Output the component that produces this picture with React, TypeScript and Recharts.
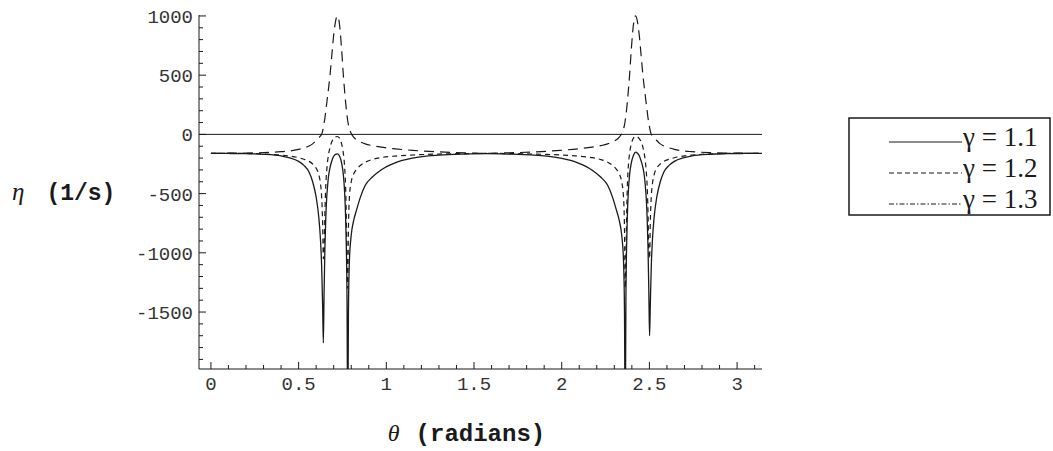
import { LineChart, Line, XAxis, YAxis, ReferenceLine } from 'recharts';

// θ (radians)
const thetas = [
  0, 0.1, 0.2, 0.3, 0.4, 0.45, 0.5, 0.53, 0.56, 0.58,
  0.6, 0.615, 0.625, 0.631, 0.637, 0.641, 0.645, 0.65, 0.655, 0.66,
  0.665, 0.67, 0.679, 0.69, 0.7, 0.71, 0.721, 0.732, 0.745, 0.755,
  0.762, 0.768, 0.772, 0.776, 0.78, 0.784, 0.79, 0.8, 0.815, 0.83,
  0.85, 0.88, 0.92, 0.97, 1.05, 1.15, 1.3, 1.45, 1.571, 1.692,
  1.842, 1.992, 2.092, 2.172, 2.222, 2.262, 2.292, 2.312, 2.327, 2.342,
  2.352, 2.358, 2.362, 2.366, 2.37, 2.374, 2.38, 2.387, 2.397, 2.41,
  2.421, 2.432, 2.442, 2.452, 2.463, 2.472, 2.477, 2.482, 2.487, 2.492,
  2.497, 2.501, 2.505, 2.511, 2.517, 2.527, 2.542, 2.562, 2.582, 2.612,
  2.642, 2.692, 2.742, 2.842, 2.942, 3.042, 3.142,
];

// η (1/s), γ = 1.1
const etaG11 = [
  -160, -161, -163, -168, -182, -198, -228, -262, -320, -400,
  -530, -700, -900, -1100, -1450, -1760, -1350, -950, -700, -540,
  -440, -360, -280, -220, -185, -168, -165, -180, -240, -340,
  -480, -700, -950, -1400, -2600, -1500, -1050, -850, -720, -640,
  -540, -430, -360, -300, -240, -200, -175, -166, -163, -166,
  -175, -200, -240, -300, -360, -430, -540, -640, -720, -850,
  -1050, -1500, -2600, -1400, -950, -700, -480, -340, -240, -175,
  -150, -160, -180, -220, -280, -360, -440, -540, -700, -950,
  -1350, -1700, -1450, -1100, -900, -700, -530, -400, -320, -262,
  -228, -198, -182, -168, -163, -161, -160,
];

// η (1/s), γ = 1.2
const etaG12 = [
  -160, -160, -161, -165, -175, -183, -197, -210, -228, -250,
  -285, -340, -420, -520, -750, -1050, -1000, -650, -430, -310,
  -230, -175, -110, -60, -35, -22, -18, -30, -80, -160,
  -270, -450, -700, -1100, -1300, -800, -520, -400, -330, -295,
  -265, -235, -212, -196, -183, -174, -166, -162, -160, -162,
  -166, -174, -183, -196, -212, -235, -265, -295, -330, -400,
  -520, -800, -1300, -1100, -700, -450, -270, -160, -80, -30,
  -18, -22, -35, -60, -110, -175, -230, -310, -430, -650,
  -1000, -1050, -750, -520, -420, -340, -285, -250, -228, -210,
  -197, -183, -175, -165, -161, -160, -160,
];

// η (1/s), γ = 1.3
const etaG13 = [
  -160, -159, -158, -154, -146, -140, -126, -114, -98, -80,
  -52, -28, -12, 0, 30, 60, 95, 140, 200, 260,
  320, 380, 500, 680, 840, 950, 1000, 940, 720, 500,
  370, 270, 210, 160, 115, 80, 45, 8, -25, -45,
  -62, -80, -95, -108, -122, -135, -148, -156, -160, -156,
  -148, -135, -122, -108, -95, -80, -62, -45, -25, 8,
  45, 80, 115, 160, 210, 270, 370, 500, 720, 940,
  1000, 950, 840, 680, 500, 380, 320, 260, 200, 140,
  95, 60, 30, 0, -12, -28, -52, -80, -98, -114,
  -126, -140, -146, -154, -158, -159, -160,
];

const xMajor = [0, 0.5, 1, 1.5, 2, 2.5, 3];
const xTicks = [
  0, 0.1, 0.2, 0.3, 0.4, 0.5, 0.6, 0.7, 0.8, 0.9, 1, 1.1, 1.2, 1.3, 1.4, 1.5,
  1.6, 1.7, 1.8, 1.9, 2, 2.1, 2.2, 2.3, 2.4, 2.5, 2.6, 2.7, 2.8, 2.9, 3, 3.1,
];
const yMajor = [-1500, -1000, -500, 0, 500, 1000];
const yTicks = [
  -1900, -1800, -1700, -1600, -1500, -1400, -1300, -1200, -1100, -1000,
  -900, -800, -700, -600, -500, -400, -300, -200, -100, 0,
  100, 200, 300, 400, 500, 600, 700, 800, 900, 1000,
];

const legendItems = [
  { label: 'γ = 1.1', dash: undefined },
  { label: 'γ = 1.2', dash: '5 3' },
  { label: 'γ = 1.3', dash: '5 2 1.5 2' },
];

const data = thetas.map((t, i) => ({ theta: t, g11: etaG11[i], g12: etaG12[i], g13: etaG13[i] }));

const INK = '#1a1a1a';
const MONO = '"Liberation Mono", "DejaVu Sans Mono", monospace';
const SERIF = '"Liberation Serif", "DejaVu Serif", serif';

// frame ticks point into the plot, like Mathematica
const BottomTick = (props: any) => {
  const { x, y, payload } = props;
  const major = xMajor.includes(payload.value);
  return (
    <g>
      <line x1={x} x2={x} y1={y} y2={y - (major ? 7 : 4)} stroke={INK} strokeWidth={1} />
      {major && (
        <text x={x} y={y + 21} textAnchor="middle" fontFamily={MONO} fontSize={19} fill="#333">
          {payload.value}
        </text>
      )}
    </g>
  );
};

const TopTick = (props: any) => {
  const { x, y, payload } = props;
  const major = xMajor.includes(payload.value);
  return <line x1={x} x2={x} y1={y} y2={y + (major ? 7 : 4)} stroke={INK} strokeWidth={1} />;
};

const LeftTick = (props: any) => {
  const { x, y, payload } = props;
  const major = yMajor.includes(payload.value);
  return (
    <g>
      <line x1={x} x2={x + (major ? 7 : 4)} y1={y} y2={y} stroke={INK} strokeWidth={1} />
      {major && (
        <text x={x - 6} y={y + 7} textAnchor="end" fontFamily={MONO} fontSize={19} fill="#333">
          {payload.value}
        </text>
      )}
    </g>
  );
};

const RightTick = (props: any) => {
  const { x, y, payload } = props;
  const major = yMajor.includes(payload.value);
  return <line x1={x} x2={x - (major ? 7 : 4)} y1={y} y2={y} stroke={INK} strokeWidth={1} />;
};

const YLabel = (props: any) => {
  const vb = props.viewBox;
  return (
    <text x={12} y={vb.y + vb.height / 2 + 8} fill={INK} fontSize={23}>
      <tspan fontFamily={SERIF} fontStyle="italic" fontSize={25}>η</tspan>
      <tspan fontFamily={MONO} fontWeight="bold" dx={22}>(1/s)</tspan>
    </text>
  );
};

const XLabel = (props: any) => {
  const vb = props.viewBox;
  return (
    <text x={vb.x + vb.width / 2 - 14} y={441} textAnchor="middle" fill={INK} fontSize={24}>
      <tspan fontFamily={SERIF} fontStyle="italic" fontSize={24}>θ</tspan>
      <tspan fontFamily={MONO} fontWeight="bold" dx={16}>(radians)</tspan>
    </text>
  );
};

export default function App() {
  return (
    <div style={{ position: 'absolute', left: 0, top: 0, width: 1053, height: 451, background: '#fff' }}>
      <LineChart
        width={1053}
        height={451}
        data={data}
        margin={{ top: 15, right: 291, bottom: 0, left: 0 }}
      >
        <XAxis
          xAxisId="b"
          dataKey="theta"
          type="number"
          domain={[-0.068, 3.1416]}
          ticks={xTicks}
          interval={0}
          tickSize={0}
          tickMargin={0}
          tickLine={false}
          tick={<BottomTick />}
          axisLine={{ stroke: INK }}
          height={82}
          label={<XLabel />}
        />
        <XAxis
          xAxisId="t"
          orientation="top"
          dataKey="theta"
          type="number"
          domain={[-0.068, 3.1416]}
          ticks={xTicks}
          interval={0}
          tickSize={0}
          tickMargin={0}
          tickLine={false}
          tick={<TopTick />}
          axisLine={{ stroke: INK }}
          height={0}
        />
        <YAxis
          yAxisId="l"
          type="number"
          domain={[-1981, 1008]}
          allowDataOverflow
          ticks={yTicks}
          interval={0}
          tickSize={0}
          tickMargin={0}
          tickLine={false}
          tick={<LeftTick />}
          axisLine={{ stroke: INK }}
          width={199}
          label={<YLabel />}
        />
        <YAxis
          yAxisId="r"
          orientation="right"
          type="number"
          domain={[-1981, 1008]}
          allowDataOverflow
          ticks={yTicks}
          interval={0}
          tickSize={0}
          tickMargin={0}
          tickLine={false}
          tick={<RightTick />}
          axisLine={{ stroke: INK }}
          width={0}
        />
        <ReferenceLine xAxisId="b" yAxisId="l" y={0} stroke={INK} strokeWidth={1} />
        <Line
          xAxisId="b"
          yAxisId="l"
          dataKey="g11"
          type="monotone"
          stroke={INK}
          strokeWidth={1.3}
          dot={false}
          isAnimationActive={false}
        />
        <Line
          xAxisId="b"
          yAxisId="l"
          dataKey="g12"
          type="monotone"
          stroke={INK}
          strokeWidth={1.2}
          strokeDasharray="5 4"
          dot={false}
          isAnimationActive={false}
        />
        <Line
          xAxisId="b"
          yAxisId="l"
          dataKey="g13"
          type="monotone"
          stroke={INK}
          strokeWidth={1.2}
          strokeDasharray="10 6"
          dot={false}
          isAnimationActive={false}
        />
      </LineChart>

      <svg
        width={204}
        height={100}
        style={{ position: 'absolute', left: 848, top: 117 }}
      >
        <rect x={1} y={1} width={201} height={97} fill="#fff" stroke={INK} strokeWidth={1.5} />
        {legendItems.map((item, i) => (
          <g key={item.label}>
            <line
              x1={41}
              x2={114}
              y1={25 + i * 31}
              y2={25 + i * 31}
              stroke={INK}
              strokeWidth={1.2}
              strokeDasharray={item.dash}
            />
            <text x={115} y={29 + i * 31} fontFamily={SERIF} fontSize={27} fill={INK}>
              {item.label}
            </text>
          </g>
        ))}
      </svg>
    </div>
  );
}
